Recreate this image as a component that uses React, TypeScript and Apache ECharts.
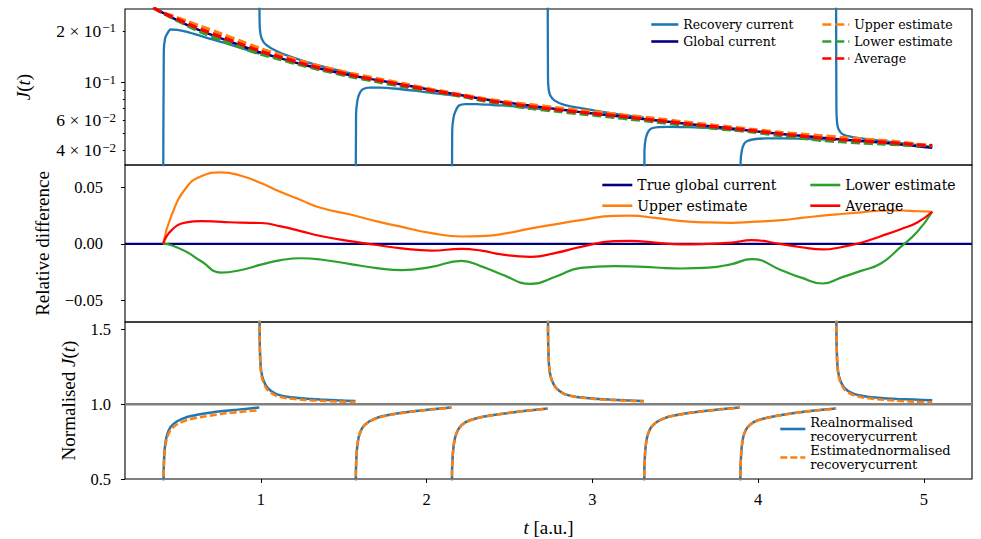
import React, { useEffect, useRef } from 'react';
import * as echarts from 'echarts';

// ---------- axis ranges / ticks ----------
const X_MIN = 0.18;
const X_MAX = 5.29;
const X_TICKS = [1, 2, 3, 4, 5];
const P1_MIN = 0.0327;
const P1_MAX = 0.269;
const P1_LABEL_VALUES = [0.04, 0.06, 0.1, 0.2];
const P1_MAJOR_TICKS = [0.1];
const P1_MINOR_TICKS = [0.04, 0.05, 0.06, 0.07, 0.08, 0.09, 0.2];
const P2_MIN = -0.0694;
const P2_MAX = 0.07;
const P2_TICKS = [-0.05, 0, 0.05];
const P3_MIN = 0.5;
const P3_MAX = 1.55;
const P3_TICKS = [0.5, 1.0, 1.5];

// ---------- global current & relative differences (common time grid) ----------
const GLOBAL_LEAD_T = 0.35;
const GLOBAL_LEAD = 0.274;
const T_REL = [0.41, 0.46, 0.55, 0.64, 0.76, 0.88, 1.0, 1.12, 1.24, 1.36, 1.54, 1.7, 1.85, 2.03, 2.21, 2.33, 2.45, 2.63, 2.78, 2.93, 3.13, 3.23, 3.38, 3.54, 3.7, 3.84, 3.96, 4.14, 4.26, 4.39, 4.5, 4.62, 4.74, 4.86, 4.96, 5.05];
const GLOBAL = [0.255, 0.24, 0.218, 0.2, 0.181, 0.164, 0.149, 0.138, 0.128, 0.12, 0.11, 0.103, 0.097, 0.09, 0.084, 0.08, 0.0767, 0.0728, 0.0697, 0.0668, 0.0636, 0.062, 0.0598, 0.0575, 0.0553, 0.0535, 0.0519, 0.0497, 0.0485, 0.0472, 0.0462, 0.0452, 0.0443, 0.0432, 0.0421, 0.0413];
const REL_UPPER = [0, 0.025, 0.05, 0.06, 0.0635, 0.0605, 0.054, 0.046, 0.039, 0.032, 0.026, 0.02, 0.015, 0.0095, 0.0065, 0.0068, 0.0086, 0.0137, 0.0175, 0.021, 0.0249, 0.025, 0.023, 0.0202, 0.019, 0.0187, 0.0195, 0.021, 0.023, 0.025, 0.0265, 0.028, 0.0294, 0.0296, 0.029, 0.0285];
const REL_AVG = [0, 0.012, 0.019, 0.0202, 0.0195, 0.0188, 0.0185, 0.0155, 0.0113, 0.007, 0.0024, -0.001, -0.0041, -0.006, -0.0045, -0.006, -0.0094, -0.0115, -0.008, -0.0027, 0.0024, 0.0027, 0.001, -0.0005, 0.0, 0.001, 0.0033, -0.0003, -0.003, -0.005, -0.003, 0.001, 0.0068, 0.013, 0.019, 0.0285];
const REL_LOWER = [0, -0.0012, -0.007, -0.0155, -0.0255, -0.0232, -0.0185, -0.0145, -0.0128, -0.0139, -0.018, -0.0215, -0.0234, -0.0205, -0.0151, -0.02, -0.027, -0.0355, -0.029, -0.0213, -0.0198, -0.02, -0.021, -0.0219, -0.0212, -0.018, -0.0136, -0.0234, -0.03, -0.0352, -0.03, -0.024, -0.0175, -0.0027, 0.0107, 0.0285];

// ---------- recovery segments ----------
const SEG_STARTS = [0.41, 0.99, 1.57, 2.15, 2.73, 3.31, 3.89, 4.47];
const SEG_KIND = ['rise', 'spike', 'rise', 'rise', 'spike', 'rise', 'rise', 'spike'];

// panel 1: recovery current J(t)
const P1_RISE_TAU = [0, 0.004, 0.012, 0.025, 0.045, 0.085, 0.15, 0.25, 0.4, 0.58];
const P1_SPIKE_TAU = [0, 0.002, 0.006, 0.015, 0.04, 0.1, 0.2, 0.35, 0.58];
const P1_REC = [
  [0.0128, 0.152, 0.181, 0.193, 0.204, 0.203, 0.197, 0.184, 0.167, 0.147],
  [0.45, 0.225, 0.196, 0.18, 0.166, 0.153, 0.14, 0.126, 0.111],
  [0.0055, 0.065, 0.078, 0.086, 0.091, 0.093, 0.093, 0.0916, 0.088, 0.084],
  [0.0043, 0.052, 0.062, 0.068, 0.073, 0.0745, 0.0745, 0.0735, 0.072, 0.069],
  [0.42, 0.105, 0.091, 0.0838, 0.0783, 0.0737, 0.0705, 0.0666, 0.0621],
  [0.003, 0.04, 0.047, 0.051, 0.0535, 0.0545, 0.0548, 0.0546, 0.054, 0.0522],
  [0.003, 0.034, 0.04, 0.0435, 0.0452, 0.0463, 0.0468, 0.0469, 0.0466, 0.0459],
  [0.4, 0.07, 0.058, 0.053, 0.0495, 0.0476, 0.0462, 0.0444, 0.0418],
];

// panel 3: normalised recovery current
const P3_RISE_TAU = [0, 0.003, 0.008, 0.015, 0.025, 0.045, 0.085, 0.145, 0.25, 0.35, 0.45, 0.58];
const P3_SPIKE_TAU = [0, 0.002, 0.006, 0.012, 0.025, 0.05, 0.1, 0.17, 0.27, 0.37, 0.47, 0.58];
const NORM_REAL = [
  [0.05, 0.55, 0.68, 0.75, 0.8, 0.848, 0.886, 0.915, 0.938, 0.953, 0.964, 0.978],
  [4.0, 1.5, 1.3, 1.22, 1.16, 1.11, 1.07, 1.05, 1.038, 1.031, 1.026, 1.022],
  [0.05, 0.55, 0.68, 0.75, 0.8, 0.848, 0.886, 0.915, 0.938, 0.953, 0.965, 0.978],
  [0.05, 0.55, 0.67, 0.74, 0.79, 0.84, 0.88, 0.905, 0.928, 0.943, 0.956, 0.971],
  [4.0, 1.5, 1.3, 1.22, 1.16, 1.11, 1.07, 1.05, 1.038, 1.031, 1.026, 1.022],
  [0.05, 0.55, 0.68, 0.75, 0.8, 0.848, 0.886, 0.915, 0.938, 0.953, 0.965, 0.978],
  [0.05, 0.55, 0.68, 0.75, 0.8, 0.845, 0.882, 0.905, 0.928, 0.945, 0.958, 0.971],
  [4.0, 1.5, 1.3, 1.22, 1.16, 1.11, 1.072, 1.053, 1.041, 1.035, 1.031, 1.027],
];
const NORM_EST = [
  [0.05, 0.54, 0.66, 0.73, 0.78, 0.828, 0.866, 0.895, 0.918, 0.935, 0.947, 0.96],
  [4.0, 1.48, 1.28, 1.2, 1.145, 1.095, 1.058, 1.04, 1.029, 1.023, 1.018, 1.015],
  [0.05, 0.55, 0.68, 0.75, 0.8, 0.846, 0.884, 0.913, 0.936, 0.952, 0.964, 0.977],
  [0.05, 0.55, 0.67, 0.74, 0.79, 0.84, 0.879, 0.904, 0.927, 0.943, 0.956, 0.97],
  [4.0, 1.5, 1.3, 1.22, 1.16, 1.108, 1.068, 1.048, 1.036, 1.029, 1.024, 1.019],
  [0.05, 0.55, 0.68, 0.75, 0.8, 0.847, 0.885, 0.914, 0.937, 0.952, 0.964, 0.977],
  [0.05, 0.55, 0.68, 0.75, 0.8, 0.845, 0.881, 0.904, 0.927, 0.944, 0.957, 0.97],
  [4.0, 1.5, 1.3, 1.21, 1.15, 1.1, 1.062, 1.044, 1.031, 1.023, 1.017, 1.012],
];

const LABELS: Record<string, string> = {
  p1Rec: 'Recovery current',
  p1Glob: 'Global current',
  p1Up: 'Upper estimate',
  p1Low: 'Lower estimate',
  p1Avg: 'Average',
  p2True: 'True global current',
  p2Up: 'Upper estimate',
  p2Low: 'Lower estimate',
  p2Avg: 'Average',
  p3Real: 'Realnormalised\nrecoverycurrent',
  p3Est: 'Estimatednormalised\nrecoverycurrent',
};

const C_BLUE = '#1f77b4';
const C_ORANGE = '#ff7f0e';
const C_GREEN = '#2ca02c';
const C_RED = '#ff0000';
const C_NAVY = '#000080';
const C_GRAY = '#808080';
const SERIF = 'Liberation Serif';
const LEG_FONT = 'DejaVu Serif';

const lg = (v: number) => Math.log10(v);

function sciLabel(x: number): string {
  const e = Math.floor(Math.log10(x) + 1e-9);
  const m = Math.round(x / Math.pow(10, e));
  const exp = '−' + Math.abs(e);
  return m === 1 ? `{n|10}{s|${exp}}` : `{n|${m} × 10}{s|${exp}}`;
}

function segData(values: number[][], riseTau: number[], spikeTau: number[], useLog: boolean) {
  const out: any[] = [];
  SEG_STARTS.forEach((s, k) => {
    const tau = SEG_KIND[k] === 'rise' ? riseTau : spikeTau;
    values[k].forEach((v, i) => out.push([s + tau[i], useLog ? lg(v) : v]));
    out.push([s + tau[tau.length - 1], '-']);
  });
  return out;
}

function buildOption() {
  const p1Est = (rel: number[]) => [[GLOBAL_LEAD_T, lg(GLOBAL_LEAD)], ...T_REL.map((t, i) => [t, lg(GLOBAL[i] * (1 + rel[i]))])];
  const p2 = (rel: number[]) => T_REL.map((t, i) => [t, rel[i]]);

  const tickText = { fontFamily: SERIF, color: '#000', fontSize: 16.5 };
  const nameStyle = {
    fontFamily: SERIF,
    color: '#000',
    fontSize: 19,
    rich: { i: { fontFamily: SERIF, fontStyle: 'italic', fontSize: 19, color: '#000' } },
  };

  const grids = [
    { left: 125, top: 9, width: 847, height: 156 },
    { left: 125, top: 165, width: 847, height: 157 },
    { left: 125, top: 322, width: 847, height: 157 },
  ].map((g) => ({ ...g, show: true, borderColor: '#000', borderWidth: 1.1, backgroundColor: 'transparent' }));

  const xAxes = [0, 1, 2].map((i) => ({
    type: 'value',
    gridIndex: i,
    min: X_MIN,
    max: X_MAX,
    axisLine: { show: false },
    splitLine: { show: false },
    axisTick: i === 2 ? { show: true, length: 4, customValues: X_TICKS, lineStyle: { color: '#000', width: 1 } } : { show: false },
    axisLabel: i === 2 ? { show: true, customValues: X_TICKS, margin: 12, ...tickText, formatter: (v: number) => String(v) } : { show: false },
    ...(i === 2 ? { name: '{i|t} [a.u.]', nameLocation: 'middle', nameGap: 39, nameTextStyle: nameStyle } : {}),
  }));

  const yAxes = [
    {
      type: 'value', gridIndex: 0, position: 'left', min: lg(P1_MIN), max: lg(P1_MAX),
      axisLine: { show: false }, splitLine: { show: false },
      axisTick: { show: true, length: 4, customValues: P1_MAJOR_TICKS.map(lg), lineStyle: { color: '#000' } },
      axisLabel: {
        show: true, customValues: P1_LABEL_VALUES.map(lg), margin: 9,
        formatter: (v: number) => sciLabel(Math.pow(10, v)),
        rich: {
          n: { fontFamily: SERIF, fontSize: 17.5, color: '#000', lineHeight: 19 },
          s: { fontFamily: SERIF, fontSize: 13, color: '#000', lineHeight: 11, verticalAlign: 'top', padding: [0, 0, 0, 1] },
        },
      },
      name: '{i|J}({i|t})', nameLocation: 'middle', nameGap: 92, nameTextStyle: nameStyle,
    },
    {
      type: 'value', gridIndex: 0, position: 'left', min: lg(P1_MIN), max: lg(P1_MAX),
      axisLine: { show: false }, splitLine: { show: false },
      axisTick: { show: true, length: 2.2, customValues: P1_MINOR_TICKS.map(lg), lineStyle: { color: '#000' } },
      axisLabel: { show: false },
    },
    {
      type: 'value', gridIndex: 1, min: P2_MIN, max: P2_MAX,
      axisLine: { show: false }, splitLine: { show: false },
      axisTick: { show: true, length: 4, customValues: P2_TICKS, lineStyle: { color: '#000' } },
      axisLabel: {
        show: true, customValues: P2_TICKS, margin: 22, ...tickText,
        formatter: (v: number) => (v < -1e-9 ? '−' : '') + Math.abs(v).toFixed(2),
      },
      name: 'Relative difference', nameLocation: 'middle', nameGap: 73, nameTextStyle: nameStyle,
    },
    {
      type: 'value', gridIndex: 2, min: P3_MIN, max: P3_MAX,
      axisLine: { show: false }, splitLine: { show: false },
      axisTick: { show: true, length: 4, customValues: P3_TICKS, lineStyle: { color: '#000' } },
      axisLabel: { show: true, customValues: P3_TICKS, margin: 14, ...tickText, formatter: (v: number) => v.toFixed(1) },
      name: 'Normalised {i|J}({i|t})', nameLocation: 'middle', nameGap: 47, nameTextStyle: nameStyle,
    },
  ];

  const line = (name: string, xi: number, yi: number, data: any[], color: string, width: number, type: any = 'solid', smooth: any = false) => ({
    type: 'line', name, xAxisIndex: xi, yAxisIndex: yi, data, symbol: 'none', showSymbol: false,
    smooth, clip: true, silent: true,
    lineStyle: { color, width, type, cap: 'butt' }, itemStyle: { color },
  });

  const series = [
    line('p1Rec', 0, 0, segData(P1_REC, P1_RISE_TAU, P1_SPIKE_TAU, true), C_BLUE, 2.3, 'solid', 0.25),
    line('p1Glob', 0, 0, [[GLOBAL_LEAD_T, lg(GLOBAL_LEAD)], ...T_REL.map((t, i) => [t, lg(GLOBAL[i])])], C_NAVY, 2.5, 'solid', 0.3),
    line('p1Up', 0, 0, p1Est(REL_UPPER), C_ORANGE, 3.4, [9, 4], 0.3),
    line('p1Low', 0, 0, p1Est(REL_LOWER), C_GREEN, 3.4, [9, 4], 0.3),
    line('p1Avg', 0, 0, p1Est(REL_AVG), C_RED, 3.4, [9, 4], 0.3),
    line('p2True', 1, 2, [[X_MIN, 0], [X_MAX, 0]], C_NAVY, 2.2),
    line('p2Up', 1, 2, p2(REL_UPPER), C_ORANGE, 2.2, 'solid', 0.5),
    line('p2Low', 1, 2, p2(REL_LOWER), C_GREEN, 2.2, 'solid', 0.5),
    line('p2Avg', 1, 2, p2(REL_AVG), C_RED, 2.2, 'solid', 0.5),
    line('p3Ref', 2, 3, [[X_MIN, 1], [X_MAX, 1]], C_GRAY, 2.4),
    line('p3Real', 2, 3, segData(NORM_REAL, P3_RISE_TAU, P3_SPIKE_TAU, false), C_BLUE, 2.5, 'solid', 0.25),
    line('p3Est', 2, 3, segData(NORM_EST, P3_RISE_TAU, P3_SPIKE_TAU, false), C_ORANGE, 2.5, [7, 3], 0.25),
  ];

  const legendBase = (data: string[], left: number, top: number, itemWidth: number, fontSize: number, lineHeight: number, itemGap: number, itemHeight: number) => ({
    show: true, orient: 'vertical', left, top, data, itemWidth, itemHeight, itemGap, padding: 0,
    selectedMode: false,
    formatter: (n: string) => LABELS[n],
    lineStyle: { width: 2.6, opacity: 1 },
    itemStyle: { color: 'rgba(0,0,0,0)', borderWidth: 0, opacity: 0 },
    textStyle: { fontFamily: LEG_FONT, fontSize, color: '#000', lineHeight },
  });

  const legends = [
    legendBase(['p1Rec', 'p1Glob'], 650, 18, 27, 12.5, 12, 4, 12),
    legendBase(['p1Up', 'p1Low', 'p1Avg'], 821, 18, 27, 12.5, 12, 4, 12),
    legendBase(['p2True', 'p2Up'], 601, 178, 30, 14, 12, 6.7, 12),
    legendBase(['p2Low', 'p2Avg'], 809, 178, 30, 14, 12, 6.7, 12),
    legendBase(['p3Real', 'p3Est'], 779, 415, 25, 13, 14, 0.5, 12),
  ];

  return {
    animation: false,
    backgroundColor: '#ffffff',
    grid: grids,
    xAxis: xAxes,
    yAxis: yAxes,
    legend: legends,
    series,
  };
}

export default function App() {
  const ref = useRef<HTMLDivElement>(null);
  useEffect(() => {
    if (!ref.current) return;
    const chart = echarts.init(ref.current, null, { renderer: 'svg' });
    chart.setOption(buildOption() as any);
    return () => chart.dispose();
  }, []);
  return (
    <div
      ref={ref}
      style={{ position: 'fixed', left: 0, top: 0, width: 981, height: 539, background: '#fff' }}
    />
  );
}
